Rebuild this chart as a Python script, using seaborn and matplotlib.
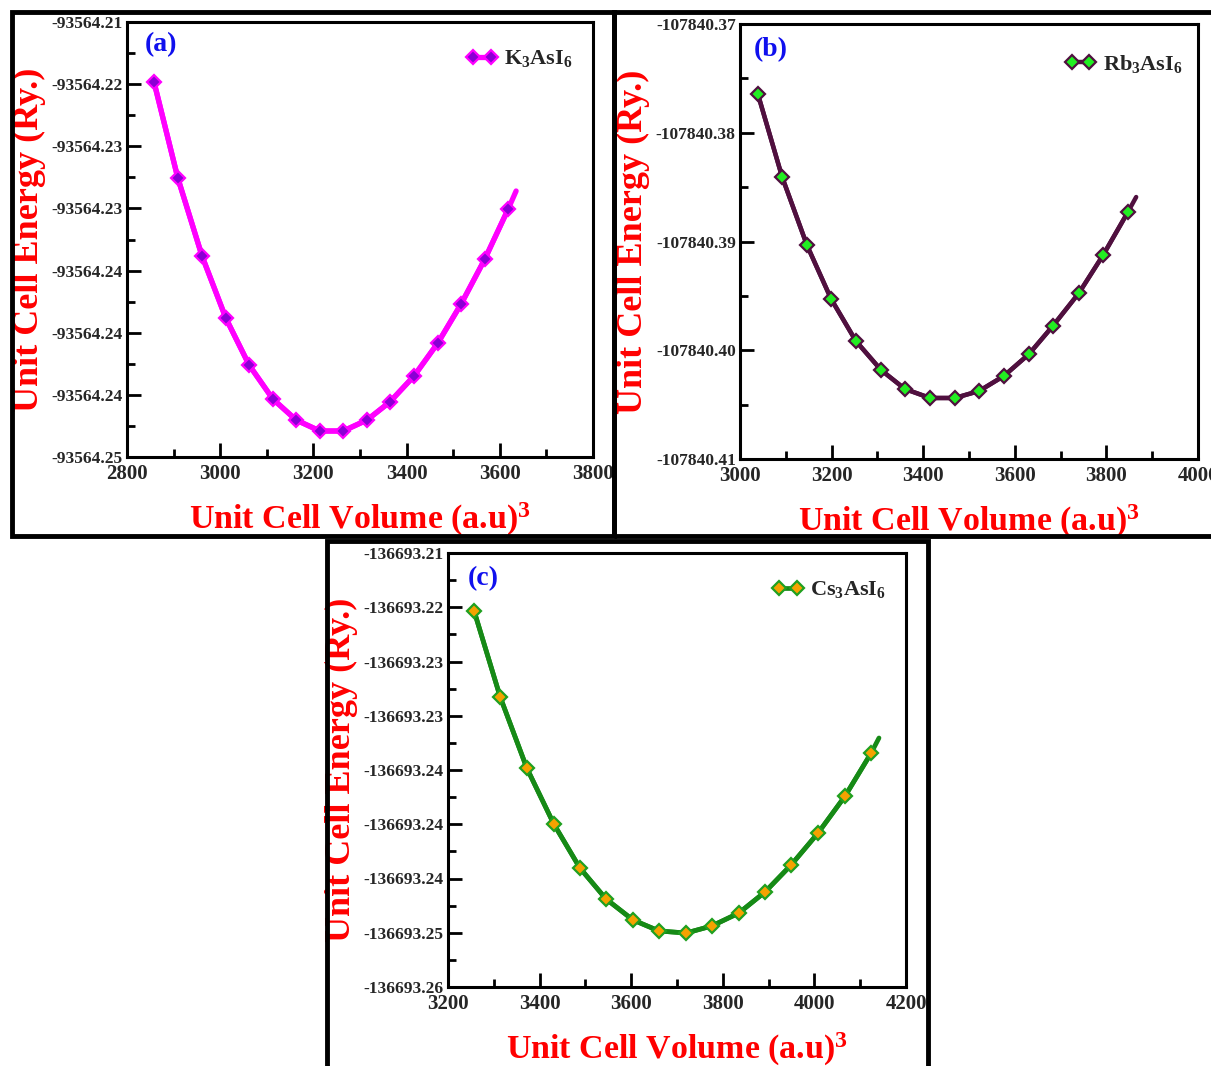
import numpy as np
import matplotlib
matplotlib.use("Agg")
import matplotlib.pyplot as plt
from matplotlib.patches import Rectangle
from matplotlib.ticker import FixedLocator, FixedFormatter, MultipleLocator
import seaborn as sns

# ---------------- data ----------------
# (a) K3AsI6
vol_a = [2858, 2909, 2961, 3012, 3062, 3113, 3163, 3214, 3264, 3315, 3364, 3416, 3467, 3517, 3568, 3618]
ene_a = [-93564.21552, -93564.22434, -93564.23152, -93564.23722, -93564.24154, -93564.24467,
         -93564.24660, -93564.24761, -93564.24761, -93564.24660, -93564.24494, -93564.24255,
         -93564.23952, -93564.23593, -93564.23179, -93564.22720]
fit_end_a = (3635, -93564.22554)

# (b) Rb3AsI6
vol_b = [3039, 3092, 3146, 3199, 3253, 3308, 3360, 3415, 3469, 3522, 3576, 3631, 3683, 3740, 3793, 3847]
ene_b = [-107840.37644, -107840.38407, -107840.39032, -107840.39529, -107840.39915, -107840.40182,
         -107840.40356, -107840.40439, -107840.40439, -107840.40375, -107840.40237, -107840.40035,
         -107840.39777, -107840.39474, -107840.39124, -107840.38729]
fit_end_b = (3865, -107840.38591)

# (c) Cs3AsI6
vol_c = [3257, 3314, 3372, 3431, 3488, 3545, 3604, 3661, 3720, 3776, 3835, 3892, 3949, 4008, 4067, 4124]
ene_c = [-136693.21668, -136693.22659, -136693.23477, -136693.24122, -136693.24629, -136693.24986,
         -136693.25228, -136693.25355, -136693.25378, -136693.25297, -136693.25148, -136693.24906,
         -136693.24595, -136693.24226, -136693.23800, -136693.23304]
fit_end_c = (4141, -136693.23131)

labels_a = ["-93564.25", "-93564.24", "-93564.24", "-93564.24", "-93564.23", "-93564.23", "-93564.22", "-93564.21"]
labels_b = ["-107840.41", "-107840.40", "-107840.39", "-107840.38", "-107840.37"]
labels_c = ["-136693.26", "-136693.25", "-136693.24", "-136693.24", "-136693.24", "-136693.23",
            "-136693.23", "-136693.22", "-136693.21"]

names = [r"K$_{\mathbf{3}}$AsI$_{\mathbf{6}}$", r"Rb$_{\mathbf{3}}$AsI$_{\mathbf{6}}$", r"Cs$_{\mathbf{3}}$AsI$_{\mathbf{6}}$"]
panel_tags = ["(a)", "(b)", "(c)"]

# ---------------- style ----------------
sns.set_style("ticks")
plt.rcParams["font.family"] = ["Liberation Serif", "DejaVu Serif"]
plt.rcParams["font.weight"] = "bold"
plt.rcParams["mathtext.fontset"] = "custom"
plt.rcParams["mathtext.rm"] = "Liberation Serif:bold"
plt.rcParams["mathtext.bf"] = "Liberation Serif:bold"
plt.rcParams["mathtext.it"] = "Liberation Serif:bold"

W, H = 1211, 1066
fig = plt.figure(figsize=(W / 100, H / 100), dpi=100)
fig.patch.set_facecolor("white")


def fx(px):
    return px / W


def fy(py):
    return 1 - py / H


def make_axes(l, t, r, b):
    return fig.add_axes([fx(l), fy(b), fx(r) - fx(l), fy(t) - fy(b)])


panels = [
    dict(box=(127, 22, 593, 457), x=vol_a, y=ene_a, end=fit_end_a, xlim=(2800, 3800),
         ylim=(-93564.25, -93564.21), ylabels=labels_a,
         line="#ff00ff", face="#8a00d4", edge="#ff00ff", lw=3.8,
         tag_xy=(0.074, 0.947), leg=(0.99, 0.975), ylab_x=-0.174),
    dict(box=(740, 24, 1198, 459), x=vol_b, y=ene_b, end=fit_end_b, xlim=(3000, 4000),
         ylim=(-107840.41, -107840.37), ylabels=labels_b,
         line="#50103f", face="#22ee22", edge="#50103f", lw=3.2,
         tag_xy=(0.068, 0.94), leg=(1.0, 0.97), ylab_x=-0.197),
    dict(box=(448, 553, 906, 987), x=vol_c, y=ene_c, end=fit_end_c, xlim=(3200, 4200),
         ylim=(-136693.26, -136693.21), ylabels=labels_c,
         line="#168a16", face="#f5a200", edge="#20a020", lw=3.4,
         tag_xy=(0.076, 0.942), leg=(0.99, 0.975), ylab_x=-0.197),
]

for i, p in enumerate(panels):
    ax = make_axes(*p["box"])
    cx = list(p["x"]) + [p["end"][0]]
    cy = list(p["y"]) + [p["end"][1]]
    sns.lineplot(x=cx, y=cy, ax=ax, color=p["line"], lw=p["lw"], sort=False,
                 estimator=None, zorder=2)
    sns.lineplot(x=p["x"], y=p["y"], ax=ax, color=p["line"], lw=p["lw"], sort=False,
                 estimator=None, marker="D", markersize=7, markerfacecolor=p["face"],
                 markeredgecolor=p["edge"], markeredgewidth=1.6, label=names[i], zorder=3)
    ax.set_xlim(*p["xlim"])
    ax.set_ylim(*p["ylim"])
    n = len(p["ylabels"])
    yt = np.linspace(p["ylim"][0], p["ylim"][1], n)
    ax.yaxis.set_major_locator(FixedLocator(yt))
    ax.yaxis.set_major_formatter(FixedFormatter(p["ylabels"]))
    ax.yaxis.set_minor_locator(FixedLocator((yt[:-1] + yt[1:]) / 2))
    ax.xaxis.set_major_locator(MultipleLocator(200))
    ax.xaxis.set_minor_locator(MultipleLocator(100))
    ax.tick_params(axis="both", which="major", direction="in", length=10, width=2, color="black")
    ax.tick_params(axis="both", which="minor", direction="in", length=6, width=2, color="black")
    ax.tick_params(axis="y", labelsize=12.5, pad=3)
    ax.tick_params(axis="x", labelsize=15, pad=5)
    for lab in ax.get_xticklabels() + ax.get_yticklabels():
        lab.set_fontweight("bold")
    for s in ax.spines.values():
        s.set_linewidth(2.2)
        s.set_color("black")
    ax.set_xlabel(r"Unit Cell Volume (a.u)$^{\mathbf{3}}$", color="red", fontsize=24.5,
                  fontweight="bold", labelpad=12)
    ax.set_ylabel("Unit Cell Energy (Ry.)", color="red", fontsize=26, fontweight="bold")
    ax.yaxis.set_label_coords(p["ylab_x"], 0.5)
    ax.text(p["tag_xy"][0], p["tag_xy"][1], panel_tags[i], transform=ax.transAxes,
            color="#1010ee", fontsize=20, fontweight="bold", ha="center", va="center")
    ax.legend(loc="upper right", bbox_to_anchor=p["leg"], frameon=False, numpoints=2,
              handlelength=1.4, fontsize=16, borderaxespad=0.3, handletextpad=0.3)

# outer panel frames
frames = [(11.5, 11.5, 614, 536), (614, 11.5, 1213, 536), (327, 541, 928, 1070)]
for (l, t, r, b) in frames:
    fig.add_artist(Rectangle((fx(l), fy(b)), fx(r) - fx(l), fy(t) - fy(b),
                             transform=fig.transFigure, fill=False, lw=3.5,
                             edgecolor="black", zorder=10))

fig.savefig("out.png", dpi=100, facecolor="white")
